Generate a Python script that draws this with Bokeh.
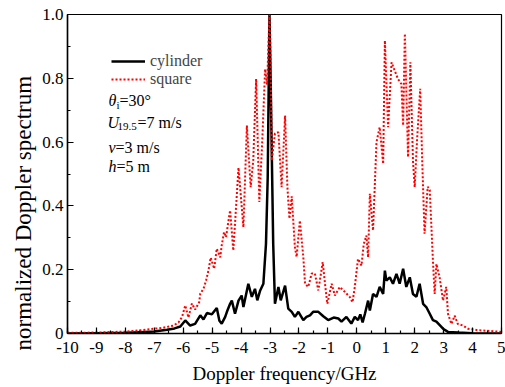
from bokeh.plotting import figure
from bokeh.models import (Label, Legend, LegendItem, FixedTicker,
                          CustomJSTickFormatter, Range1d, Title)
from bokeh.embed import file_html
from bokeh.resources import INLINE

# ---------------- data ----------------
cyl_x = [-10.0, -9.0, -8.0, -7.5, -7.0, -6.56, -6.3, -6.1, -5.93, -5.76, -5.59,
         -5.41, -5.30, -5.18, -5.01, -4.84, -4.75, -4.67, -4.55, -4.49, -4.38,
         -4.32, -4.21, -4.09, -3.98, -3.92, -3.75, -3.63, -3.52, -3.44, -3.34,
         -3.23, -3.14, -3.08, -3.02, -2.98, -2.89, -2.83, -2.71, -2.63, -2.48,
         -2.37, -2.25, -2.14, -2.02, -1.85, -1.74, -1.62, -1.51, -1.33, -1.16,
         -0.99, -0.80, -0.64, -0.53, -0.36, -0.19, -0.07, 0.04, 0.12, 0.20,
         0.28, 0.39, 0.45, 0.56, 0.68, 0.79, 0.91, 0.97, 1.02, 1.14, 1.25,
         1.37, 1.48, 1.60, 1.71, 1.83, 1.94, 2.06, 2.17, 2.29, 2.40, 2.52,
         2.63, 2.75, 2.98, 3.15, 3.50, 4.00, 5.00]
cyl_y = [0.000, 0.001, 0.002, 0.004, 0.006, 0.012, 0.016, 0.022, 0.041, 0.025, 0.030,
         0.057, 0.044, 0.064, 0.060, 0.080, 0.040, 0.031, 0.052, 0.068, 0.093,
         0.103, 0.062, 0.103, 0.119, 0.083, 0.156, 0.115, 0.140, 0.104, 0.135,
         0.156, 0.281, 0.490, 1.000, 0.800, 0.280, 0.093, 0.146, 0.104, 0.150,
         0.078, 0.068, 0.052, 0.068, 0.042, 0.052, 0.057, 0.068, 0.068, 0.054,
         0.042, 0.050, 0.047, 0.037, 0.052, 0.031, 0.052, 0.042, 0.060, 0.035,
         0.062, 0.103, 0.072, 0.124, 0.115, 0.146, 0.124, 0.197, 0.166, 0.176, 0.156,
         0.187, 0.156, 0.203, 0.146, 0.176, 0.124, 0.115, 0.156, 0.093, 0.083, 0.062,
         0.042, 0.037, 0.015, 0.005, 0.003, 0.001, 0.000]

sq_x = [-10.0, -9.0, -8.0, -7.5, -7.0, -6.7, -6.33, -6.16, -6.04, -5.93, -5.82,
        -5.70, -5.59, -5.45, -5.41, -5.30, -5.21, -5.13, -5.05, -4.93, -4.84,
        -4.72, -4.67, -4.59, -4.52, -4.45, -4.38, -4.27, -4.21, -4.09, -3.92,
        -3.80, -3.67, -3.58, -3.48, -3.37, -3.27, -3.17, -3.10, -3.02, -2.98,
        -2.94, -2.83, -2.71, -2.60, -2.48, -2.40, -2.33, -2.25, -2.14, -2.08,
        -1.97, -1.85, -1.79, -1.68, -1.56, -1.45, -1.33, -1.18, -1.10, -1.02,
        -0.87, -0.76, -0.59, -0.41, -0.24, -0.15, -0.07, 0.04, 0.16, 0.24,
        0.33, 0.39, 0.45, 0.56, 0.68, 0.79, 0.91, 0.97, 1.08, 1.20, 1.31,
        1.42, 1.54, 1.60, 1.66, 1.77, 1.85, 1.94, 2.00, 2.08, 2.19, 2.26,
        2.34, 2.45, 2.52, 2.63, 2.69, 2.75, 2.86, 2.98, 3.09, 3.15, 3.27,
        3.38, 3.49, 3.67, 3.84, 4.20, 4.60, 5.00]
sq_y = [0.002, 0.003, 0.006, 0.010, 0.015, 0.018, 0.025, 0.035, 0.052, 0.088, 0.050,
        0.094, 0.075, 0.098, 0.125, 0.140, 0.166, 0.197, 0.238, 0.203, 0.266,
        0.239, 0.276, 0.318, 0.302, 0.345, 0.386, 0.260, 0.345, 0.520, 0.333,
        0.652, 0.459, 0.542, 0.798, 0.412, 0.600, 0.829, 0.780, 1.000, 0.850,
        0.542, 0.627, 0.631, 0.459, 0.683, 0.460, 0.360, 0.430, 0.270, 0.240,
        0.354, 0.240, 0.156, 0.146, 0.188, 0.188, 0.135, 0.224, 0.156, 0.093,
        0.156, 0.119, 0.146, 0.130, 0.114, 0.098, 0.146, 0.234, 0.213, 0.281,
        0.307, 0.239, 0.438, 0.323, 0.600, 0.647, 0.532, 0.918, 0.647, 0.850, 0.824,
        0.798, 0.782, 0.652, 0.940, 0.553, 0.850, 0.542, 0.459, 0.605, 0.767, 0.542,
        0.313, 0.460, 0.450, 0.229, 0.124, 0.218, 0.176, 0.103, 0.146, 0.062, 0.030,
        0.056, 0.030, 0.025, 0.015, 0.010, 0.008, 0.005]

x_ticks = list(range(-10, 6))
y_ticks = [0, 0.2, 0.4, 0.6, 0.8, 1.0]
series_names = ["cylinder", "square"]
x_title = "Doppler frequency/GHz"
y_title = "normalized Doppler spectrum"

FONT = "Liberation Serif"

# page-pixel frame geometry
W, H = 505, 387
FL, FR, FT, FB = 67, 501, 14, 333

# ---------------- figure ----------------
p = figure(width=W, height=H, output_backend="svg", toolbar_location=None,
           x_range=Range1d(-10, 5), y_range=Range1d(0, 1.0),
           min_border_left=FL, min_border_right=W - FR, min_border_top=FT,
           min_border_bottom=H - FB)
p.grid.visible = False
p.outline_line_color = "black"
p.outline_line_width = 1.2
p.background_fill_color = "white"
p.border_fill_color = "white"


def dx(px):
    return -10 + (px - FL) * 15.0 / (FR - FL)


def dy(py):
    return (FB - py) / float(FB - FT)


r_cyl = p.line(cyl_x, cyl_y, line_color="black", line_width=2.5)
r_sq = p.line(sq_x, sq_y, line_color="#ff0000", line_width=2, line_dash="2 2")

# axes
for ax in (p.xaxis[0], p.yaxis[0]):
    ax.axis_line_width = 1.5
    ax.major_tick_in = 6
    ax.major_tick_out = 0
    ax.minor_tick_in = 3
    ax.minor_tick_out = 0
    ax.major_tick_line_width = 1.2
    ax.minor_tick_line_width = 1.2
    ax.major_label_text_font = FONT
    ax.major_label_text_font_size = "17px"
    ax.major_label_text_color = "black"
    ax.axis_label_text_font = FONT
    ax.axis_label_text_font_style = "normal"
    ax.axis_label_text_color = "black"

p.xaxis.ticker = FixedTicker(ticks=x_ticks,
                             minor_ticks=[t / 2 for t in range(-20, 11)])
p.yaxis.ticker = FixedTicker(ticks=y_ticks,
                             minor_ticks=[t / 10 for t in range(0, 11)])
p.xaxis.formatter = CustomJSTickFormatter(code="return tick.toFixed(0);")
p.yaxis.formatter = CustomJSTickFormatter(
    code="return Math.abs(tick) < 1e-9 ? '0' : tick.toFixed(1);")
p.xaxis.axis_label = x_title
p.xaxis.axis_label_text_font_size = "19px"
p.xaxis.major_label_standoff = 8
p.xaxis.axis_label_standoff = 7
p.yaxis.major_label_standoff = 4

# y title as a side title (starts a little below the frame bottom, as in the reference)
p.add_layout(Title(text=y_title, align="left", offset=-17,
                   text_font=FONT, text_font_size="23px",
                   text_font_style="normal", text_color="black",
                   standoff=8), "left")

# legend
legend = Legend(items=[LegendItem(label=series_names[0], renderers=[r_cyl]),
                       LegendItem(label=series_names[1], renderers=[r_sq])],
                location=(111 - FL, FB - 88),
                label_text_font=FONT, label_text_font_size="16px",
                glyph_width=34, glyph_height=18, label_height=18,
                label_standoff=5, spacing=0, padding=0, margin=0,
                border_line_color=None, background_fill_alpha=0)
p.add_layout(legend, "center")


def lab(text, px, py, size="16px", style="normal"):
    p.add_layout(Label(x=dx(px), y=dy(py), text=text, text_font=FONT,
                       text_font_size=size, text_font_style=style,
                       text_baseline="middle", text_align="left",
                       text_color="black"))


# parameter annotations
lab("θ", 108, 100, style="italic")
lab("i", 116, 104, size="11px")
lab("=30°", 119, 100)
lab("U", 107, 122, style="italic")
lab("19.5", 117, 126, size="11px")
lab("=7 m/s", 137, 122)
lab("v", 108, 147, style="italic")
lab("=3 m/s", 115, 147)
lab("h", 108, 166, style="italic")
lab("=5 m", 116, 166)

open("out.html", "w").write(file_html(p, INLINE))
